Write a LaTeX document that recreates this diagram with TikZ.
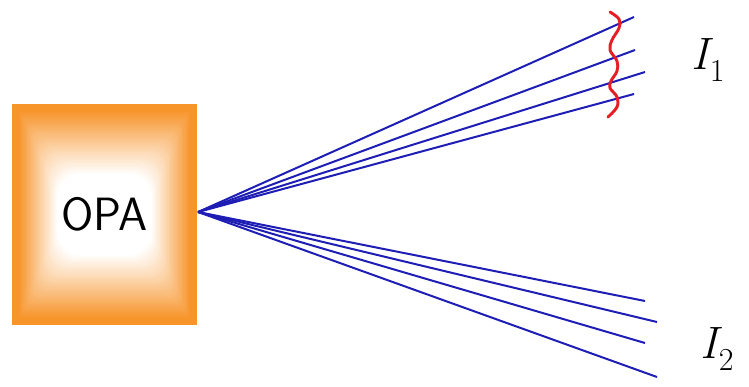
\documentclass[tikz,border=0pt]{standalone}
\usepackage{fontspec}
\usepackage{tikz}
\usetikzlibrary{arrows.meta, positioning}
\definecolor{boxorange}{HTML}{F7942A}
\definecolor{beamblue}{HTML}{1E1EB4}
\definecolor{bracered}{HTML}{E51E25}
\newcommand{\beamname}[1]{\itshape I\kern1pt\raisebox{-0.28em}{\upshape\fontsize{24}{28}\selectfont #1}}

\begin{document}
\begin{tikzpicture}[
    x=0.75pt, y=-0.75pt,
    every node/.style={font=\sffamily},
    opabox/.style={rectangle, minimum width=138.75pt, minimum height=165.75pt, inner sep=0pt, font=\sffamily\fontsize{35}{40}\selectfont},
    beam/.style={draw=beamblue, line width=1.5pt},
    beamlabel/.style={inner sep=0pt, font=\rmfamily\fontsize{34}{40}\selectfont},
]
\useasboundingbox (0,0) rectangle (749,386);
% pillow fill of the source box
\fill[boxorange] (12,104) rectangle (197,325);
\foreach \k in {1,...,30} {
    \pgfmathsetmacro{\ix}{6+1.3*\k}
    \pgfmathsetmacro{\iy}{6+2.1*\k}
    \pgfmathtruncatemacro{\mix}{100-3.3*\k}
    \fill[boxorange!\mix!white, rounded corners=\k*0.6pt] (12+\ix,104+\iy) rectangle (197-\ix,325-\iy);
}
\node[opabox] (opa) at (104.5,214.5) {OPA};
\coordinate (src) at (198,212);
% beam ends
\foreach \n/\x/\y in {a1/634/17, a2/635/50, a3/645/72, a4/634/94, b1/645/301, b2/657/322, b3/645/343, b4/657/377} {
    \coordinate (\n) at (\x,\y);
    \draw[beam] (src) -- (\n);
}
% brace across upper beams
\draw[bracered, line width=2.2pt, line cap=round] plot[smooth, tension=0.6] coordinates {(610,12) (619,19) (619,28) (612,40) (610,50) (617,61) (617,71) (611,81) (610,88) (617,97) (617,107) (608,117)};
\node[beamlabel] (i1) at (708,60) {\beamname{1}};
\node[beamlabel] (i2) at (717,349) {\beamname{2}};
\end{tikzpicture}
\end{document}
